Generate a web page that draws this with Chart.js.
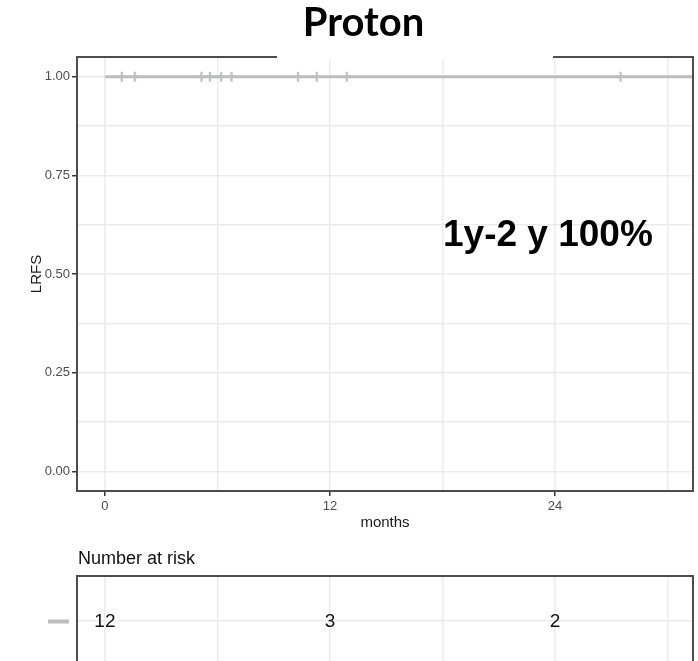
<!DOCTYPE html>
<html>
<head>
<meta charset="utf-8">
<script src="https://cdn.jsdelivr.net/npm/chart.js@4"></script>
<style>
  html, body { margin:0; padding:0; background:#fff; overflow:hidden; }
  #wrap { position:relative; width:698px; height:661px; overflow:hidden; }
  #kmChart { position:absolute; left:0; top:0; }
  #riskChart { position:absolute; left:0; top:545px; }
  #gap { position:absolute; left:277px; top:0; width:276px; height:59px; background:#fff; }
  #title { position:absolute; left:213px; top:-3px; width:301px; text-align:center;
           font:bold 40px Lato, "Liberation Sans", sans-serif; line-height:48px; color:#000; }
  #note { position:absolute; left:443px; top:213px; white-space:nowrap;
          font:bold 37px "Liberation Sans", Arial, sans-serif; line-height:41px; color:#000; }
</style>
</head>
<body>
<div id="wrap">
  <canvas id="kmChart" width="698" height="545"></canvas>
  <canvas id="riskChart" width="698" height="130"></canvas>
  <div id="gap"></div>
  <div id="title">Proton</div>
  <div id="note">1y-2 y 100%</div>
</div>
<script>
// survival curve (single stratum)
const survTimes = [0, 31.4];
const survValues = [1, 1];
// censoring marks
const censorTimes = [0.9, 1.6, 5.15, 5.6, 6.2, 6.75, 10.3, 11.3, 12.9, 27.5];
const censorValues = [1, 1, 1, 1, 1, 1, 1, 1, 1, 1];

// axes
const xTicks = [0, 6, 12, 18, 24, 30];
const xLabelValues = [0, 12, 24];
const xTickLabels = ['0', '12', '24'];
const yTicks = [0, 0.125, 0.25, 0.375, 0.5, 0.625, 0.75, 0.875, 1];
const yLabelValues = [0, 0.25, 0.5, 0.75, 1];
const yTickLabels = ['0.00', '0.25', '0.50', '0.75', '1.00'];

// number at risk table
const riskTimes = [0, 12, 24];
const riskCounts = [12, 3, 2];
const riskRow = 1;

const FONT = '"Liberation Sans", Arial, sans-serif';
const LINE = '#bdbdbd';
const GRID = '#ebebeb';
Chart.defaults.font.family = FONT;

const xMin = -1.49, xMax = 31.36;

function label(vals, labels){
  return v => { const i = vals.indexOf(v); return i < 0 ? '' : labels[i]; };
}

// panel border drawn on all four sides
const framePlugin = {
  id: 'frame',
  afterDraw(chart){
    const {ctx, chartArea:a} = chart;
    ctx.save();
    ctx.strokeStyle = '#4d4d4d';
    ctx.lineWidth = 2;
    ctx.strokeRect(a.left, a.top, a.right - a.left, a.bottom - a.top);
    ctx.restore();
  }
};

new Chart(document.getElementById('kmChart'), {
  type: 'scatter',
  data: {
    datasets: [
      {
        data: survTimes.map((t, i) => ({x: t, y: survValues[i]})),
        showLine: true, stepped: 'before',
        borderColor: LINE, borderWidth: 3, pointRadius: 0
      },
      {
        data: censorTimes.map((t, i) => ({x: t, y: censorValues[i]})),
        pointStyle: 'cross', pointRadius: 5, pointBorderWidth: 2.5,
        borderColor: '#c4c6c8', backgroundColor: '#c4c6c8'
      }
    ]
  },
  options: {
    responsive: false, animation: false,
    layout: { autoPadding: false, padding: { top: 57, right: 5, left: 0, bottom: 0 } },
    plugins: { legend: { display: false }, tooltip: { enabled: false } },
    scales: {
      x: {
        type: 'linear', min: xMin, max: xMax,
        afterBuildTicks: s => { s.ticks = xTicks.map(v => ({value: v})); },
        afterFit: s => { s.height = 54; s.paddingLeft = 0; s.paddingRight = 0; },
        border: { display: false },
        grid: {
          color: GRID, lineWidth: 1.5, tickLength: 5, tickWidth: 1.5,
          tickColor: c => xLabelValues.includes(c.tick.value) ? '#333' : 'rgba(0,0,0,0)'
        },
        ticks: { callback: label(xLabelValues, xTickLabels), padding: 3, maxRotation: 0,
                 color: '#4d4d4d', font: { size: 13 } },
        title: { display: true, text: 'months', color: '#1a1a1a', font: { size: 15 },
                 padding: { top: 0, bottom: 13 } }
      },
      y: {
        type: 'linear', min: -0.05, max: 1.05,
        afterBuildTicks: s => { s.ticks = yTicks.map(v => ({value: v})); },
        afterFit: s => { s.width = 77; s.paddingTop = 0; s.paddingBottom = 0; },
        border: { display: false },
        grid: {
          color: GRID, lineWidth: 1.5, tickLength: 5, tickWidth: 1.5,
          tickColor: c => yLabelValues.includes(c.tick.value) ? '#333' : 'rgba(0,0,0,0)'
        },
        ticks: { callback: label(yLabelValues, yTickLabels), padding: 2,
                 color: '#4d4d4d', font: { size: 13 } },
        title: { display: true, text: 'LRFS', color: '#1a1a1a', font: { size: 15 },
                 padding: { top: 28, bottom: 0 } }
      }
    }
  },
  plugins: [framePlugin]
});

// risk numbers, strata key and heading
const riskPlugin = {
  id: 'riskText',
  afterDraw(chart){
    const {ctx, chartArea:a, scales:{x, y}} = chart;
    const yr = y.getPixelForValue(riskRow);
    ctx.save();
    ctx.font = '19px ' + FONT;
    ctx.fillStyle = '#111';
    ctx.textAlign = 'center';
    ctx.textBaseline = 'middle';
    riskCounts.forEach((n, i) => ctx.fillText(String(n), x.getPixelForValue(riskTimes[i]), yr + 1));
    ctx.fillStyle = LINE;
    ctx.fillRect(a.left - 29, yr - 1.5, 21, 4);
    ctx.font = '18px ' + FONT;
    ctx.fillStyle = '#111';
    ctx.textAlign = 'left';
    ctx.textBaseline = 'alphabetic';
    ctx.fillText('Number at risk', a.left + 1, 19);
    ctx.restore();
  }
};

new Chart(document.getElementById('riskChart'), {
  type: 'scatter',
  data: { datasets: [] },
  options: {
    responsive: false, animation: false,
    layout: { autoPadding: false, padding: { top: 31, right: 5, left: 0, bottom: 9 } },
    plugins: { legend: { display: false }, tooltip: { enabled: false } },
    scales: {
      x: {
        type: 'linear', min: xMin, max: xMax,
        afterBuildTicks: s => { s.ticks = xTicks.map(v => ({value: v})); },
        afterFit: s => { s.height = 0; },
        border: { display: false },
        grid: { color: GRID, lineWidth: 1.5, drawTicks: false },
        ticks: { display: false }
      },
      y: {
        type: 'linear', min: 0, max: 2,
        afterBuildTicks: s => { s.ticks = [{value: riskRow}]; },
        afterFit: s => { s.width = 77; },
        border: { display: false },
        grid: { color: GRID, lineWidth: 1.5, drawTicks: false },
        ticks: { display: false }
      }
    }
  },
  plugins: [framePlugin, riskPlugin]
});
</script>
</body>
</html>
